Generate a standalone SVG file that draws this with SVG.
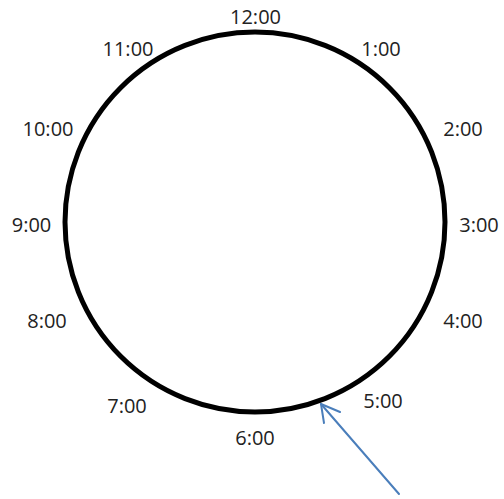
<svg xmlns="http://www.w3.org/2000/svg" width="504" height="499" viewBox="0 0 504 499">
<style>
.lbl{font-family:"Open Sans","Noto Sans","Liberation Sans",sans-serif;font-size:20px;fill:#222;text-anchor:middle}
.arr{fill:none;stroke:#4a7ebb;stroke-width:2;stroke-linecap:round;stroke-linejoin:round}
</style>
<rect width="504" height="499" fill="#fff"/>
<g id="clock">
<circle cx="255" cy="222" r="190" fill="none" stroke="#000" stroke-width="5"/>
</g>
<g id="labels">
<text class="lbl" x="255.5" y="24">12:00</text>
<text class="lbl" x="381" y="56">1:00</text>
<text class="lbl" x="463" y="136">2:00</text>
<text class="lbl" x="479" y="232">3:00</text>
<text class="lbl" x="463" y="328">4:00</text>
<text class="lbl" x="383" y="408">5:00</text>
<text class="lbl" x="255" y="445">6:00</text>
<text class="lbl" x="127" y="413">7:00</text>
<text class="lbl" x="47" y="328">8:00</text>
<text class="lbl" x="31.5" y="232">9:00</text>
<text class="lbl" x="48" y="136">10:00</text>
<text class="lbl" x="128" y="56">11:00</text>
</g>
<g id="connectors">
<line class="arr" x1="399" y1="494" x2="321" y2="404"/>
<polyline class="arr" points="340,412 321,404 324,423"/>
</g>
</svg>
